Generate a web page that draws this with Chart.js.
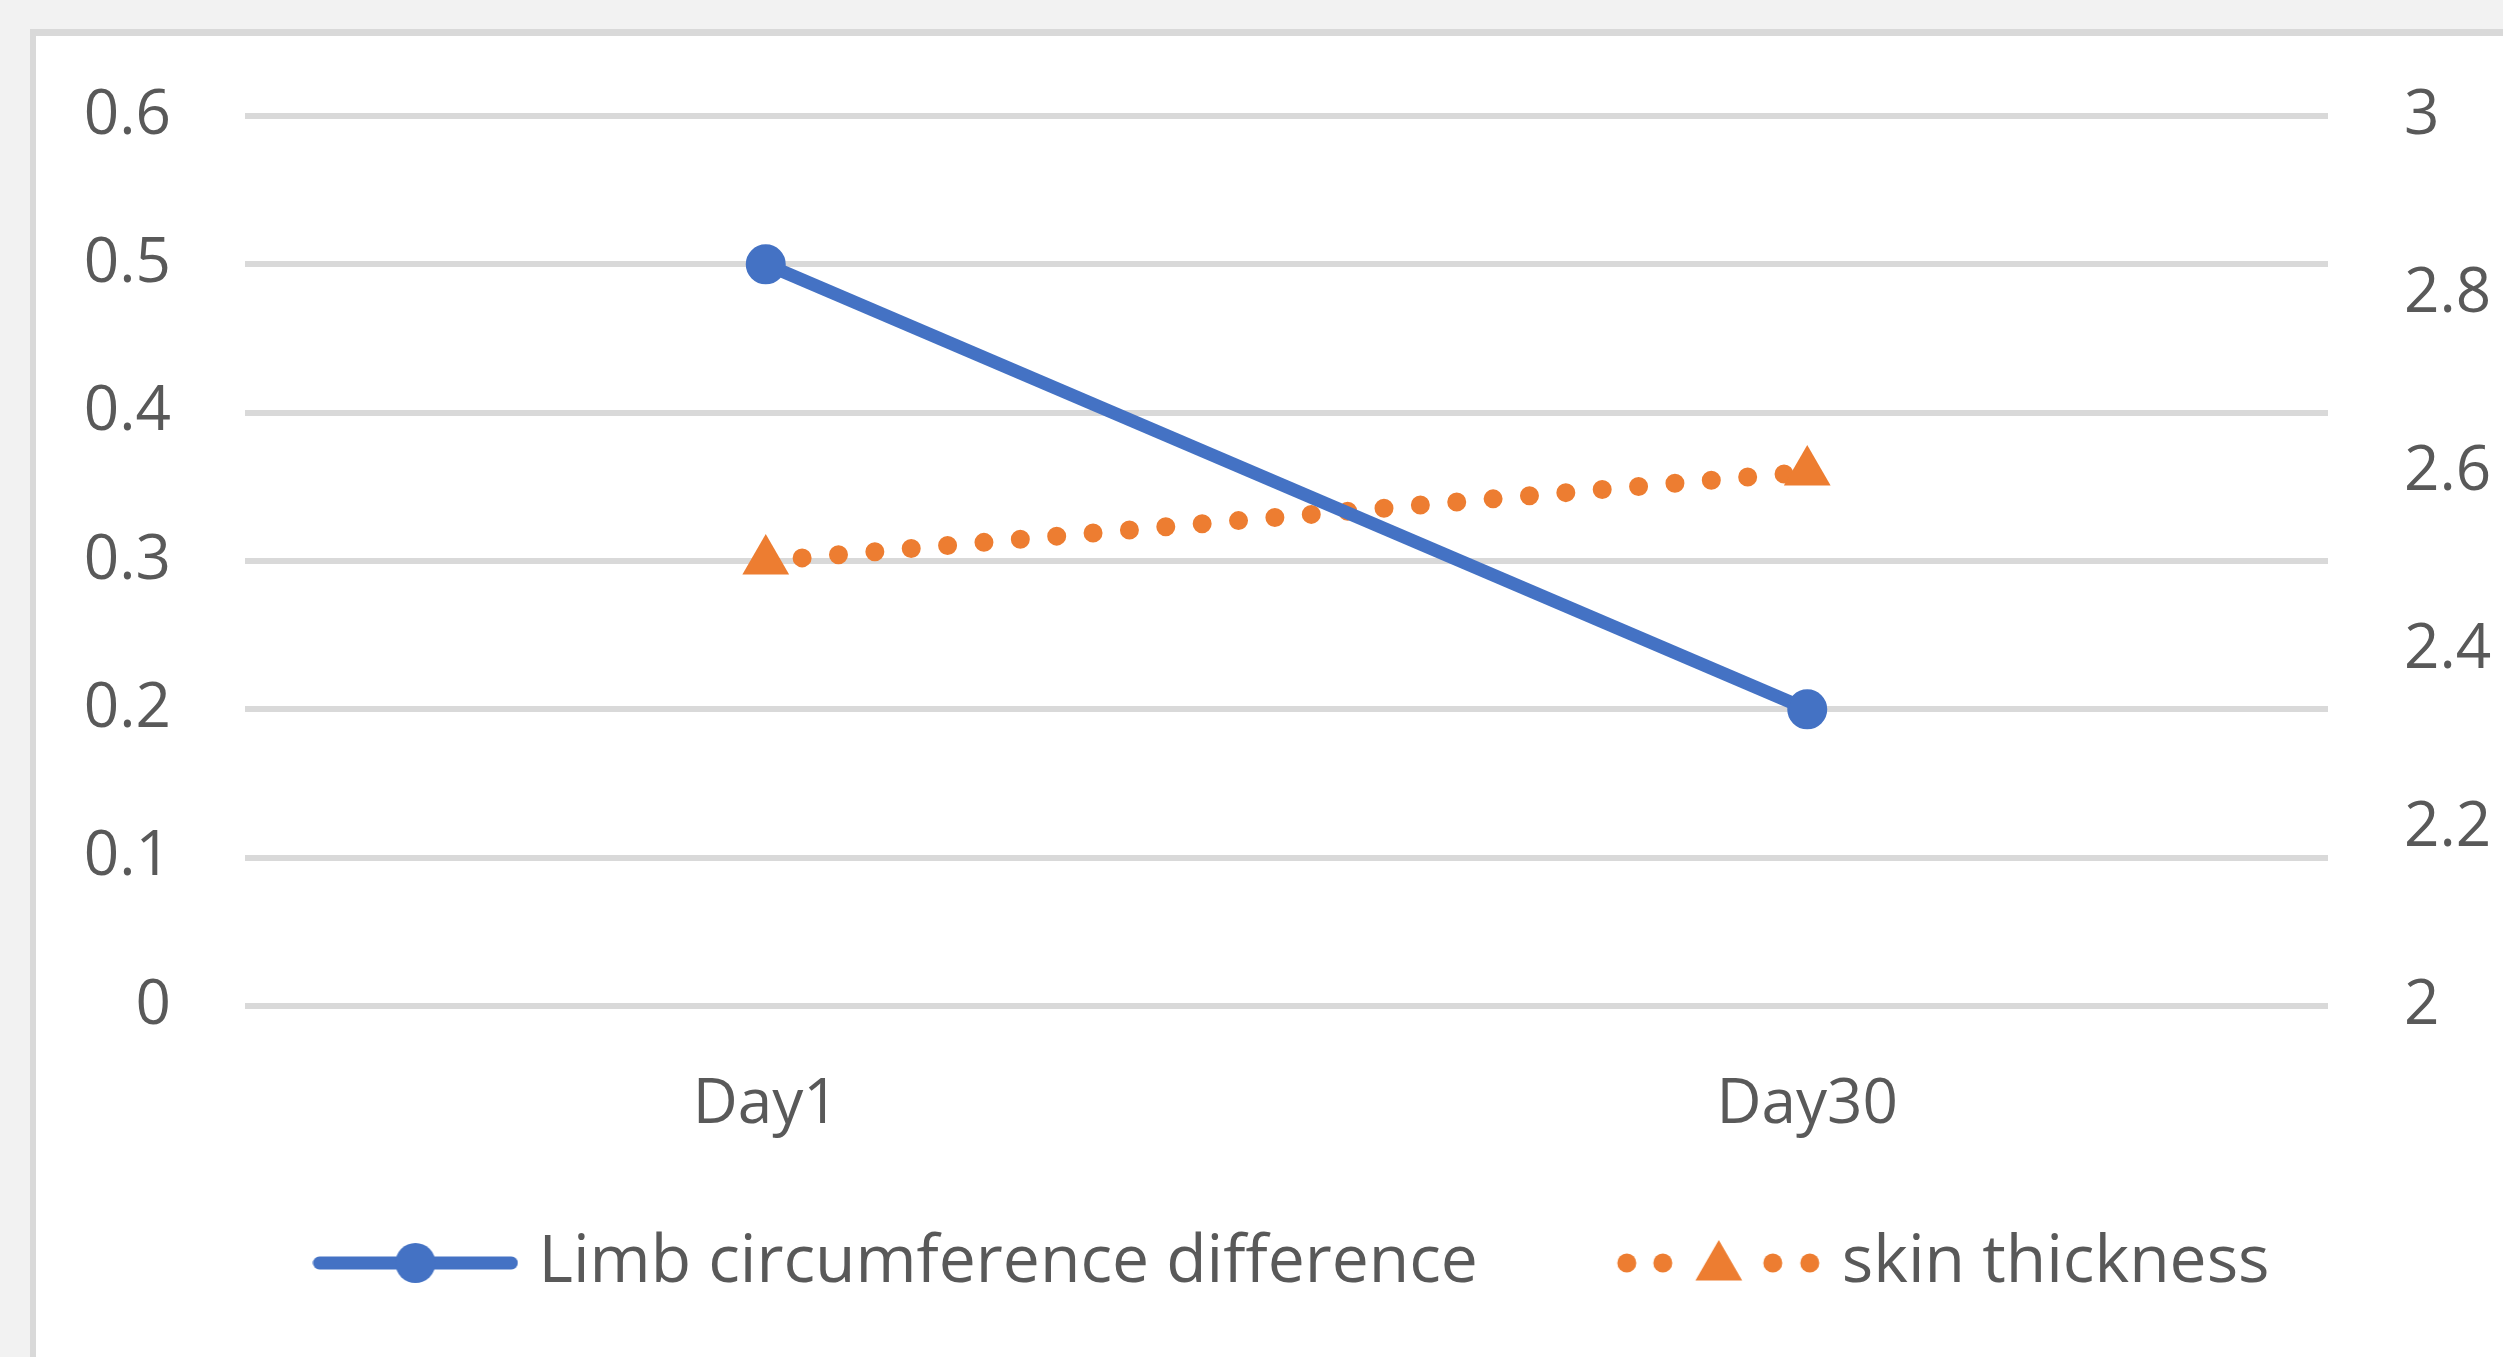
<!DOCTYPE html>
<html><head><meta charset="utf-8">
<script src="https://cdn.jsdelivr.net/npm/chart.js@4.4.1/dist/chart.umd.min.js"></script>
<style>
html,body{margin:0;padding:0;width:2503px;height:1357px;overflow:hidden;background:#f2f2f2;}
#panel{position:absolute;left:30px;top:29px;width:2600px;height:1500px;background:#fff;border-left:6px solid #d9d9d9;border-top:7px solid #d9d9d9;}
#wrap{position:absolute;left:0;top:0;width:2503px;height:1357px;}
</style></head><body>
<div id="panel"></div>
<div id="wrap"><canvas id="c" width="2503" height="1357"></canvas></div>
<script>
const categories = ['Day1', 'Day30'];
const seriesNames = ['Limb circumference difference', 'skin thickness'];
const limbValues = [0.5, 0.2];
const skinValues = [2.5, 2.6];
const leftTicks = ['0', '0.1', '0.2', '0.3', '0.4', '0.5', '0.6'];
const rightTicks = ['2', '2.2', '2.4', '2.6', '2.8', '3'];

const BLUE = '#4472C4';
const ORANGE = '#ED7D31';
const TEXT = '#595959';
const FONT = "'Open Sans', sans-serif";
const FS = 62;
const FW = 400;
const LFS = 66;

function blueLegendImg() {
  const c = document.createElement('canvas');
  c.width = 206; c.height = 44;
  const g = c.getContext('2d');
  g.strokeStyle = BLUE; g.lineWidth = 13; g.lineCap = 'round';
  g.beginPath(); g.moveTo(7, 22); g.lineTo(199, 22); g.stroke();
  g.fillStyle = BLUE; g.beginPath(); g.arc(103, 22, 20, 0, Math.PI * 2); g.fill();
  return c;
}
function orangeLegendImg() {
  const c = document.createElement('canvas');
  c.width = 210; c.height = 56;
  const g = c.getContext('2d');
  g.fillStyle = ORANGE;
  [13, 49, 159, 196].forEach(x => { g.beginPath(); g.arc(x, 28, 9.5, 0, Math.PI * 2); g.fill(); });
  const cx = 105, cy = 32, r = 27;
  g.beginPath();
  g.moveTo(cx, cy - r);
  g.lineTo(cx + r * Math.sin(2 * Math.PI / 3), cy - r * Math.cos(2 * Math.PI / 3));
  g.lineTo(cx + r * Math.sin(4 * Math.PI / 3), cy - r * Math.cos(4 * Math.PI / 3));
  g.closePath(); g.fill();
  return c;
}
const legendImgs = [blueLegendImg(), orangeLegendImg()];

const legendShift = {
  id: 'legendShift',
  afterLayout(chart) {
    if (chart.legend) { chart.legend.left += 26; chart.legend.right += 26; }
  }
};

new Chart(document.getElementById('c'), {
  type: 'line',
  data: {
    labels: categories,
    datasets: [
      {
        label: seriesNames[0], data: limbValues, yAxisID: 'y',
        borderColor: BLUE, backgroundColor: BLUE, borderWidth: 13,
        pointRadius: 19, pointBorderWidth: 2, pointBackgroundColor: BLUE, pointBorderColor: BLUE,
        pointStyle: 'circle', tension: 0
      },
      {
        label: seriesNames[1], data: skinValues, yAxisID: 'y1',
        borderColor: ORANGE, backgroundColor: ORANGE, borderWidth: 19,
        borderDash: [0, 36.5], borderCapStyle: 'round',
        pointRadius: 27, pointBorderWidth: 0, pointBackgroundColor: ORANGE, pointBorderColor: ORANGE,
        pointStyle: 'triangle', tension: 0
      }
    ]
  },
  plugins: [legendShift],
  options: {
    responsive: false,
    animation: false,
    devicePixelRatio: 1,
    layout: { padding: { left: 40, right: 0, top: 116, bottom: 51 } },
    plugins: {
      tooltip: { enabled: false },
      legend: {
        position: 'bottom',
        labels: {
          usePointStyle: true,
          pointStyleWidth: 180,
          padding: 48,
          color: TEXT,
          font: { family: FONT, size: LFS, weight: FW },
          generateLabels: (chart) => {
            const items = Chart.defaults.plugins.legend.labels.generateLabels(chart);
            items.forEach((it) => {
              const i = it.datasetIndex;
              it.pointStyle = legendImgs[i];
              it.text = i === 0 ? seriesNames[0] + '      ' : seriesNames[1];
            });
            return items;
          }
        }
      }
    },
    scales: {
      x: {
        offset: true,
        grid: { display: false, drawTicks: false },
        border: { display: false },
        ticks: { color: TEXT, font: { family: FONT, size: FS, weight: FW }, padding: 62 },
        afterFit: (s) => { s.height = 176; }
      },
      y: {
        position: 'left', min: 0, max: 0.6,
        grid: { color: '#d9d9d9', lineWidth: 6, drawTicks: false },
        border: { display: false },
        ticks: {
          stepSize: 0.1, color: TEXT, font: { family: FONT, size: FS, weight: FW }, padding: 74,
          callback: (v, i) => leftTicks[i]
        },
        afterFit: (s) => { s.width = 205; }
      },
      y1: {
        position: 'right', min: 2, max: 3,
        grid: { display: false, drawTicks: false },
        border: { display: false },
        ticks: {
          stepSize: 0.2, color: TEXT, font: { family: FONT, size: FS, weight: FW }, padding: 76,
          callback: (v, i) => rightTicks[i]
        },
        afterFit: (s) => { s.width = 175; }
      }
    }
  }
});
</script>
</body></html>
